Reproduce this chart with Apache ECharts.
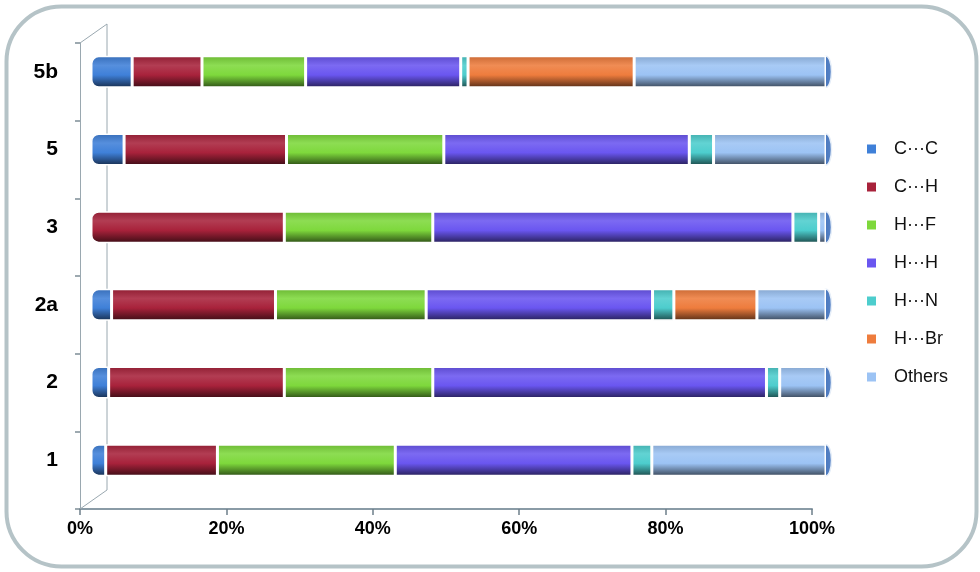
<!DOCTYPE html>
<html>
<head>
<meta charset="utf-8">
<script src="https://cdn.jsdelivr.net/npm/echarts@6/dist/echarts.min.js"></script>
<style>
  html, body { margin: 0; padding: 0; background: #fff; }
  #box { width: 980px; height: 572px; }
</style>
</head>
<body>
<div id="box"></div>
<script>
// 化合物 (top to bottom)
var categories = ["5b", "5", "3", "2a", "2", "1"];
var contactNames = ["C\u00b7\u00b7\u00b7C", "C\u00b7\u00b7\u00b7H", "H\u00b7\u00b7\u00b7F", "H\u00b7\u00b7\u00b7H", "H\u00b7\u00b7\u00b7N", "H\u00b7\u00b7\u00b7Br", "Others"];
var xTicks = [0, 20, 40, 60, 80, 100];

// percentage contributions per contact, same order as categories
var ccValues    = [5.6, 4.5, 0,    2.8, 2.4, 2.0];
var chValues    = [9.5, 22.1, 26.3, 22.3, 23.9, 15.2];
var hfValues    = [14.1, 21.4, 20.2, 20.5, 20.2, 24.2];
var hhValues    = [21.1, 33.4, 49.0, 30.8, 45.4, 32.2];
var hnValues    = [1.0, 3.3, 3.5, 2.9, 1.8, 2.7];
var hbrValues   = [22.6, 0,   0,    11.3, 0,   0];
var otherValues = [26.1, 15.3, 1.0, 9.4, 6.3, 23.7];

var allValues = [ccValues, chValues, hfValues, hhValues, hnValues, hbrValues, otherValues];
var colors = ["#3f80d8", "#a8223b", "#7ed83c", "#6a56f0", "#4dcdcd", "#ee7c3d", "#9cc3f4"];

function shade(hex, f) {
  var n = parseInt(hex.slice(1), 16);
  var r = (n >> 16) & 255, g = (n >> 8) & 255, b = n & 255;
  function c(v) {
    v = f < 0 ? v * (1 + f) : v + (255 - v) * f;
    return Math.max(0, Math.min(255, Math.round(v)));
  }
  return "rgb(" + c(r) + "," + c(g) + "," + c(b) + ")";
}

function tube(hex) {
  return new echarts.graphic.LinearGradient(0, 0, 0, 1, [
    { offset: 0, color: shade(hex, -0.15) },
    { offset: 0.3, color: shade(hex, 0.12) },
    { offset: 0.6, color: hex },
    { offset: 0.88, color: shade(hex, -0.45) },
    { offset: 1, color: shade(hex, -0.65) }
  ]);
}

// 找每行第一个非零段, 给它圆角
function firstIndex(row) {
  for (var s = 0; s < allValues.length; s++) {
    if (allValues[s][row] > 0) return s;
  }
  return 0;
}

var series = contactNames.map(function (name, s) {
  return {
    name: name,
    type: "bar",
    stack: "total",
    xAxisIndex: 1,
    yAxisIndex: 1,
    barWidth: 32,
    itemStyle: { color: tube(colors[s]), borderColor: "#ffffff", borderWidth: 1.5 },
    data: allValues[s].map(function (v, row) {
      if (!v) return "-";
      var item = { value: v };
      if (firstIndex(row) === s) item.itemStyle = { borderRadius: [7, 0, 0, 7] };
      return item;
    })
  };
});

// right end caps of the tubes
series.push({
  type: "custom",
  xAxisIndex: 1,
  yAxisIndex: 1,
  silent: true,
  data: categories.map(function (c, i) { return [100, i]; }),
  renderItem: function (params, api) {
    var p = api.coord([api.value(0), api.value(1)]);
    return {
      type: "ellipse",
      shape: { cx: p[0], cy: p[1], rx: 5.5, ry: 15.5 },
      style: {
        fill: new echarts.graphic.LinearGradient(0, 0, 1, 0, [
          { offset: 0, color: "#3d6cb5" },
          { offset: 1, color: "#5a86c8" }
        ]),
        stroke: "#e6eef8",
        lineWidth: 1.5
      }
    };
  }
});

var option = {
  backgroundColor: "#ffffff",
  animation: false,
  legend: {
    orient: "vertical",
    left: 860,
    top: 135,
    itemWidth: 11,
    itemHeight: 11,
    itemGap: 20,
    icon: "rect",
    textStyle: { fontFamily: "Liberation Sans, Arial, sans-serif", fontSize: 18, color: "#111", padding: [0, 0, 0, 12] },
    data: contactNames.map(function (n, s) {
      return { name: n, itemStyle: { color: colors[s] } };
    })
  },
  grid: [
    // front axes
    { left: 80, right: 168, top: 43, bottom: 63 },
    // tubes, pushed back into the 3D depth
    { left: 91, right: 154, top: 33, bottom: 73 }
  ],
  xAxis: [
    {
      gridIndex: 0,
      type: "value",
      min: 0,
      max: 100,
      interval: 20,
      axisLine: { show: true, lineStyle: { color: "#8a9ba6", width: 2 } },
      axisTick: { show: true, length: 6, lineStyle: { color: "#6e7f8a", width: 1.5 } },
      splitLine: { show: false },
      axisLabel: {
        margin: 11,
        formatter: "{value}%",
        fontFamily: "Liberation Sans Narrow, Arial Narrow, Liberation Sans, sans-serif",
        fontWeight: "bold",
        fontSize: 18,
        color: "#000"
      }
    },
    { gridIndex: 1, type: "value", min: 0, max: 100, show: false }
  ],
  yAxis: [
    {
      gridIndex: 0,
      type: "category",
      inverse: true,
      data: categories,
      axisLine: { show: true, lineStyle: { color: "#9aa8b0", width: 1 } },
      axisTick: { show: true, length: 5, lineStyle: { color: "#7d8d96", width: 1.5 } },
      axisLabel: { show: false }
    },
    {
      gridIndex: 1,
      type: "category",
      inverse: true,
      data: categories,
      axisLine: { show: false },
      axisTick: { show: false },
      axisLabel: {
        margin: 33,
        fontFamily: "Liberation Sans, Arial, sans-serif",
        fontWeight: "bold",
        fontSize: 21,
        color: "#000"
      }
    }
  ],
  graphic: [
    // rounded frame
    {
      type: "rect",
      left: 4,
      top: 4,
      shape: { width: 970, height: 560, r: 55 },
      style: { fill: "none", stroke: "#b5c3c7", lineWidth: 4 },
      z: 0
    },
    // back wall lines (3D box)
    { type: "polyline", shape: { points: [[80, 43], [107, 24], [107, 490], [80, 509]] }, style: { fill: "none", stroke: "#9aa8b0", lineWidth: 1 }, z: 1 }
  ],
  series: series
};

echarts.init(document.getElementById("box")).setOption(option);
</script>
</body>
</html>
